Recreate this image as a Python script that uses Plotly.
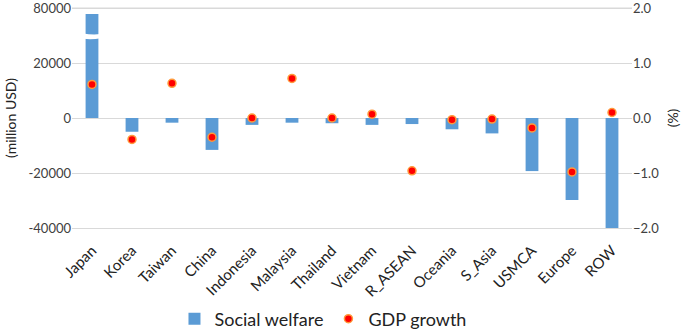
import plotly.graph_objects as go

categories = ["Japan", "Korea", "Taiwan", "China", "Indonesia", "Malaysia", "Thailand",
              "Vietnam", "R_ASEAN", "Oceania", "S_Asia", "USMCA", "Europe", "ROW"]
social_welfare = [73500, -5000, -1700, -11600, -2500, -1700, -1900,
                  -2500, -2200, -4100, -5600, -19300, -29800, -40000]
gdp_growth = [0.61, -0.39, 0.63, -0.35, 0.0, 0.72, 0.0,
              0.07, -0.96, -0.03, -0.02, -0.18, -0.98, 0.10]
left_tick_values = [-40000, -20000, 0, 20000, 80000]
right_tick_values = [-2.0, -1.0, 0.0, 1.0, 2.0]

BREAK_AT = 20000
COMPRESS = 3.0


def to_display(v):
    # broken axis: values above BREAK_AT are compressed
    return v if v <= BREAK_AT else BREAK_AT + (v - BREAK_AT) / COMPRESS


FONT = "Lato"
BLUE = "#5b9bd5"
GRID = "#d9d9d9"
PAD = 5 / 220  # fraction of the main span kept as padding above/below outer ticks

fig = go.Figure()
fig.add_trace(go.Bar(
    x=categories, y=[to_display(v) for v in social_welfare],
    name="Social welfare", marker=dict(color=BLUE, line=dict(width=0)),
    width=0.32, yaxis="y",
    customdata=social_welfare, hovertemplate="%{x}: %{customdata}<extra></extra>",
))
fig.add_trace(go.Scatter(
    x=categories, y=gdp_growth, name="GDP growth", mode="markers",
    marker=dict(color="#ff0000", size=8, line=dict(color="#ff9a3c", width=1.5)),
    yaxis="y2",
))

# top gridline (at the outermost tick, which plotly omits at the edge)
fig.add_shape(type="line", xref="paper", yref="y", layer="below",
              x0=0, x1=1, y0=to_display(left_tick_values[-1]), y1=to_display(left_tick_values[-1]),
              line=dict(color=GRID, width=1))

# axis break mark on Japan bar
brk = 29700
fig.add_shape(type="path", xref="x", yref="y", layer="above",
              path=f"M -0.22,{brk-900} Q 0,{brk-1300} 0.22,{brk-700} "
                   f"L 0.22,{brk+800} Q 0,{brk+500} -0.22,{brk+1000} Z",
              fillcolor="white", line=dict(width=0))

lo, hi = -40000, 40000
span = hi - lo
fig.update_layout(
    width=692, height=332,
    margin=dict(l=72, r=60, t=3, b=99, autoexpand=False),
    paper_bgcolor="white", plot_bgcolor="white",
    font=dict(family=FONT, color="#404040", size=13),
    showlegend=True,
    legend=dict(orientation="h", x=0.183, xanchor="left", y=-0.374, yanchor="middle",
                font=dict(size=18, color="#222222"), itemwidth=30,
                traceorder="normal"),
    bargap=0.6,
    xaxis=dict(tickangle=-45, tickfont=dict(size=15, color="#222222"),
               showgrid=False, showline=False, ticks="", range=[-0.5, 13.5],
               automargin=False, ticklabelstandoff=5),
    yaxis=dict(range=[lo - span * PAD, hi + span * PAD],
               tickvals=[to_display(v) for v in left_tick_values],
               ticktext=[str(v) for v in left_tick_values],
               showgrid=True, gridcolor=GRID, gridwidth=1,
               zeroline=False, showline=False, ticks="", automargin=False,
               ticklabeloverflow="allow",
               tickfont=dict(size=13, color="#404040"),
               title=dict(text="(million USD)", font=dict(size=14, color="#222222"), standoff=8)),
    yaxis2=dict(range=[-2 - 4 * PAD, 2 + 4 * PAD], overlaying="y", side="right",
                tickvals=right_tick_values, tickformat=".1f", automargin=False,
                ticklabeloverflow="allow",
                showgrid=False, zeroline=False, showline=False, ticks="",
                tickfont=dict(size=13, color="#404040"),
                title=dict(text="(%)", font=dict(size=14, color="#222222"), standoff=10)),
)

fig.write_html("out.html", config={"displayModeBar": False},
               post_script="document.body.style.margin='0px';document.body.style.overflow='hidden';")
